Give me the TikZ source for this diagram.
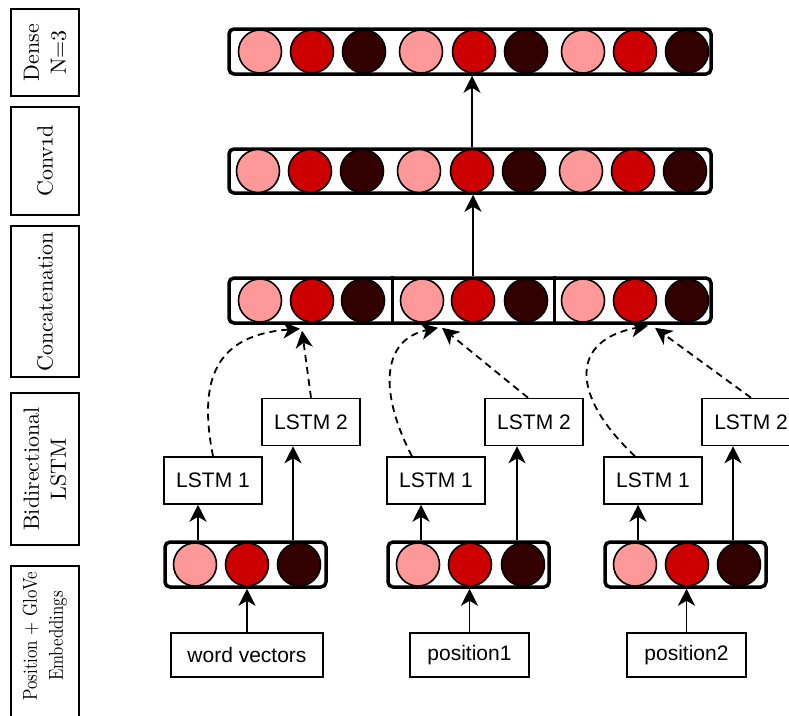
\documentclass[tikz,border=0pt]{standalone}
\usepackage{graphicx}
\usepackage{fontspec}
\setsansfont{Liberation Sans}
\newfontfamily\lblfont{lmroman10-regular.otf}
\usetikzlibrary{arrows.meta,calc}
\definecolor{unitlight}{HTML}{FF9999}
\definecolor{unitmid}{HTML}{CC0000}
\definecolor{unitdark}{HTML}{330000}
\newcommand{\narrowtext}[1]{\scalebox{0.84}[1]{#1}}

\begin{document}
\begin{tikzpicture}[x=1pt,y=-1pt,
  bar/.style={draw, line width=3.5pt, rounded corners=5pt, inner sep=0pt, minimum height=45pt},
  unit/.style={circle, draw, line width=1.6pt, minimum size=43pt, inner sep=0pt},
  box/.style={draw, line width=1.5pt, inner sep=0pt, minimum height=44pt,
    font=\sffamily\fontsize{21}{25}\selectfont},
  lstmbox/.style={box, minimum width=98pt, minimum height=47pt},
  layerlbl/.style={draw, line width=1.8pt, rotate=90, minimum height=68pt,
    align=center, inner sep=0pt, font=\lblfont\fontsize{22}{27}\selectfont},
  arr/.style={line width=1.8pt, -{Stealth[length=17pt,width=17pt,inset=5pt]}},
  darr/.style={arr, dash pattern=on 7pt off 5pt},
]
\useasboundingbox (0,0) rectangle (789,715);

% layer captions on the left
\node[layerlbl, minimum width=87pt]  (ldense)  at (45,52.5)  {Dense\\N=3};
\node[layerlbl, minimum width=108pt] (lconv)   at (45,161)   {Conv\oldstylenums{1}d};
\node[layerlbl, minimum width=151pt] (lconcat) at (45,301.5) {Concatenation};
\node[layerlbl, minimum width=152pt] (lbilstm) at (45,469)   {Bidirectional\\LSTM};
\node[layerlbl, minimum width=194pt] (lembedbox) at (45,663) {};
\node[rotate=90, align=center, inner sep=0pt, font=\lblfont\fontsize{20}{26}\selectfont]
  (lembed) at (45,636) {\narrowtext{Position + GloVe}\\\narrowtext{Embeddings}};

% wide layer bars
\node[bar, minimum width=482pt] (dense)  at (470,51.5)  {};
\node[bar, minimum width=482pt, minimum height=44pt] (conv) at (470,171) {};
\node[bar, minimum width=482pt] (concat) at (470,300.5) {};

\foreach \i/\x/\c in {1/260/unitlight,2/312/unitmid,3/364/unitdark,
                      4/421/unitlight,5/474/unitmid,6/526/unitdark,
                      7/583/unitlight,8/635/unitmid,9/687/unitdark}
  \node[unit, fill=\c] (d\i) at (\x,51.5) {};
\foreach \i/\x/\c in {1/258/unitlight,2/310/unitmid,3/362/unitdark,
                      4/419/unitlight,5/472/unitmid,6/524/unitdark,
                      7/581/unitlight,8/633/unitmid,9/685/unitdark}
  \node[unit, fill=\c] (v\i) at (\x,171) {};
\foreach \i/\x/\c in {1/260/unitlight,2/312/unitmid,3/363/unitdark,
                      4/422/unitlight,5/473/unitmid,6/526/unitdark,
                      7/583/unitlight,8/635/unitmid,9/687/unitdark}
  \node[unit, fill=\c] (k\i) at (\x,300.5) {};

% separators between the three concatenated parts
\coordinate (s1) at ($(k3)!0.5!(k4)$);
\coordinate (s2) at ($(k6)!0.5!(k7)$);
\draw[line width=3.5pt] (s1 |- concat.north) -- (s1 |- concat.south);
\draw[line width=3.5pt] (s2 |- concat.north) -- (s2 |- concat.south);

% embedding bars
\node[bar, minimum width=161pt] (emb1) at (245.5,564.5) {};
\node[bar, minimum width=161pt] (emb2) at (468.5,564.5) {};
\node[bar, minimum width=161pt] (emb3) at (685.5,564.5) {};
\foreach \g/\xa/\xb/\xc in {1/195/247/299, 2/418/470/523, 3/635/687/739} {
  \node[unit, fill=unitlight] (e\g1) at (\xa,564.5) {};
  \node[unit, fill=unitmid]   (e\g2) at (\xb,564.5) {};
  \node[unit, fill=unitdark]  (e\g3) at (\xc,564.5) {};
}

% inputs
\node[box, minimum width=152pt] (wv) at (247,655)   {word vectors};
\node[box, minimum width=119pt] (p1) at (469.5,655) {position1};
\node[box, minimum width=119pt] (p2) at (686.5,655) {position2};

% LSTM cells
\node[lstmbox] (L1a) at (213,480.5) {LSTM 1};
\node[lstmbox] (L2a) at (311,422)   {LSTM 2};
\node[lstmbox] (L1b) at (436,480.5) {LSTM 1};
\node[lstmbox] (L2b) at (534,422)   {LSTM 2};
\node[lstmbox] (L1c) at (653,480.5) {LSTM 1};
\node[lstmbox] (L2c) at (751,422)   {LSTM 2};

% inputs into embeddings
\draw[arr] (wv.north) -- (emb1.south -| wv.north);
\draw[arr] (p1.north) -- (emb2.south -| p1.north);
\draw[arr] (p2.north) -- (emb3.south -| p2.north);

% embeddings into LSTM cells
\foreach \g/\a/\b in {1/L1a/L2a, 2/L1b/L2b, 3/L1c/L2c} {
  \coordinate (fa\g) at ($(e\g1)+(3,0)$);
  \coordinate (fb\g) at ($(e\g3)+(-6,0)$);
  \draw[arr] (fa\g |- emb\g.north) -- (fa\g |- \a.south);
  \draw[arr] (fb\g |- emb\g.north) -- (fb\g |- \b.south);
}

% LSTM outputs into the concatenation
\draw[darr] (L1a.north) .. controls (198,380) and (215,335) .. ($(concat.south -| k2)+(-12,4)$);
\draw[darr] (L2a.north) -- ($(concat.south -| k2)+(-10,6)$);
\draw[darr] ([xshift=-24pt]L1b.north) .. controls (380,395) and (380,340) .. ($(concat.south -| k4)+(16,3)$);
\draw[darr] ([xshift=-6pt]L2b.north) -- ($(concat.south -| k4)+(20,3)$);
\draw[darr] ([xshift=-18pt]L1c.north) .. controls (570,395) and (570,340) .. ($(concat.south -| k8)+(13,1)$);
\draw[darr] (L2c.north) -- ($(concat.south -| k8)+(20,3)$);

% upward flow through the stack
\draw[arr] (concat.north -| k5) -- (conv.south -| k5);
\draw[arr] (conv.north -| v5) -- (dense.south -| v5);
\end{tikzpicture}
\end{document}
